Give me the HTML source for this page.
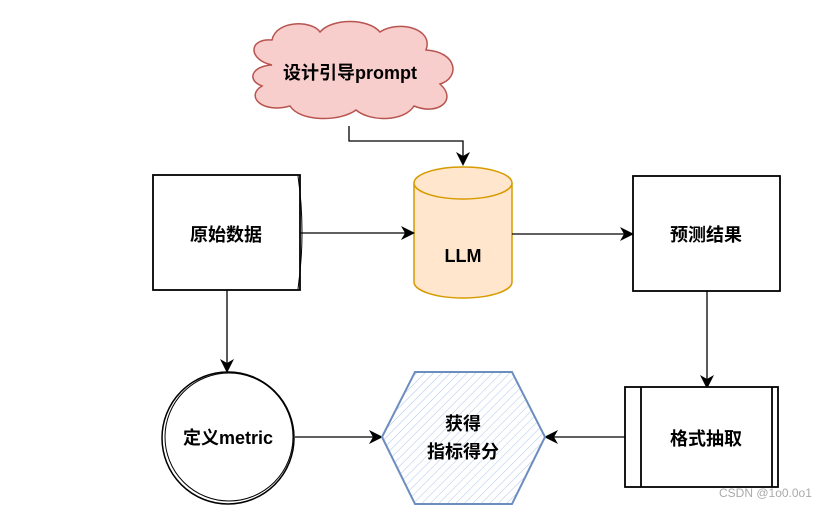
<!DOCTYPE html>
<html><head><meta charset="utf-8"><style>
html,body{margin:0;padding:0;background:#fff;}
svg text{font-family:"Liberation Sans","Noto Sans CJK SC",sans-serif;font-weight:bold;font-size:18px;fill:#000;}
</style></head><body>
<svg width="833" height="507" viewBox="0 0 833 507" xmlns="http://www.w3.org/2000/svg">
<defs>
<marker id="a" markerWidth="14" markerHeight="14" refX="12" refY="7" orient="auto" markerUnits="userSpaceOnUse">
<path d="M0,0 L14,7 L0,14 L4,7 Z" fill="#000"/></marker>
<pattern id="h" width="6" height="6" patternUnits="userSpaceOnUse" patternTransform="rotate(45)">
<line x1="0" y1="0" x2="0" y2="6" stroke="#a9c4eb" stroke-width="1"/></pattern>
</defs>
<!-- cloud -->
<path d="M272,65 C248,60 248,38 272,40 C276,20 312,20 320,32 C332,18 368,18 380,32 C398,20 434,28 426,50 C458,52 460,78 440,84 C458,100 438,116 414,106 C404,122 370,122 356,110 C340,122 300,122 290,106 C262,114 245,96 262,86 C246,80 252,66 272,65 Z" fill="#f8cecc" stroke="#b85450" stroke-width="1.5"/>
<text x="350" y="79" text-anchor="middle">设计引导prompt</text>
<path d="M349,126 V141 H463 V164" fill="none" stroke="#000" stroke-width="1.3" marker-end="url(#a)"/>
<!-- cylinder -->
<path d="M414,183 V282 A49,16 0 0 0 512,282 V183" fill="#ffe6cc" stroke="#d79b00" stroke-width="1.5"/>
<ellipse cx="463" cy="183" rx="49" ry="16" fill="#ffe6cc" stroke="#d79b00" stroke-width="1.5"/>
<text x="463" y="262" text-anchor="middle">LLM</text>
<rect x="153" y="175" width="147" height="115" fill="#fff" stroke="#000" stroke-width="1.8"/>
<path d="M298,176 Q306,232 298,289" fill="none" stroke="#000" stroke-width="1"/>
<text x="226" y="241" text-anchor="middle">原始数据</text>
<rect x="633" y="176" width="147" height="115" fill="#fff" stroke="#000" stroke-width="1.8"/>
<text x="706" y="241" text-anchor="middle">预测结果</text>
<line x1="300" y1="233" x2="413" y2="233" stroke="#000" stroke-width="1.3" marker-end="url(#a)"/>
<line x1="512" y1="234" x2="632" y2="234" stroke="#000" stroke-width="1.3" marker-end="url(#a)"/>
<line x1="227" y1="290" x2="227" y2="371" stroke="#000" stroke-width="1.3" marker-end="url(#a)"/>
<line x1="707" y1="291" x2="707" y2="387" stroke="#000" stroke-width="1.3" marker-end="url(#a)"/>
<line x1="295" y1="437" x2="381" y2="437" stroke="#000" stroke-width="1.3" marker-end="url(#a)"/>
<line x1="625" y1="437" x2="546" y2="437" stroke="#000" stroke-width="1.3" marker-end="url(#a)"/>
<circle cx="228" cy="438" r="66" fill="#fff" stroke="#000" stroke-width="1.5"/>
<circle cx="229" cy="437" r="64" fill="none" stroke="#000" stroke-width="1"/>
<text x="228" y="444" text-anchor="middle">定义metric</text>
<polygon points="382,437 415,372 512,372 545,437 512,504 415,504" fill="url(#h)" stroke="#6c8ebf" stroke-width="2"/>
<text x="463" y="430" text-anchor="middle">获得</text>
<text x="463" y="458" text-anchor="middle">指标得分</text>
<rect x="625" y="387" width="153" height="100" fill="#fff" stroke="#000" stroke-width="1.8"/>
<line x1="641" y1="387" x2="641" y2="487" stroke="#000" stroke-width="1.8"/>
<line x1="772" y1="387" x2="772" y2="487" stroke="#000" stroke-width="1.8"/>
<text x="706" y="445" text-anchor="middle">格式抽取</text>
<text x="719" y="497" style="font-weight:normal;font-size:12px;fill:#aaa">CSDN @1o0.0o1</text>
</svg>
</body></html>
